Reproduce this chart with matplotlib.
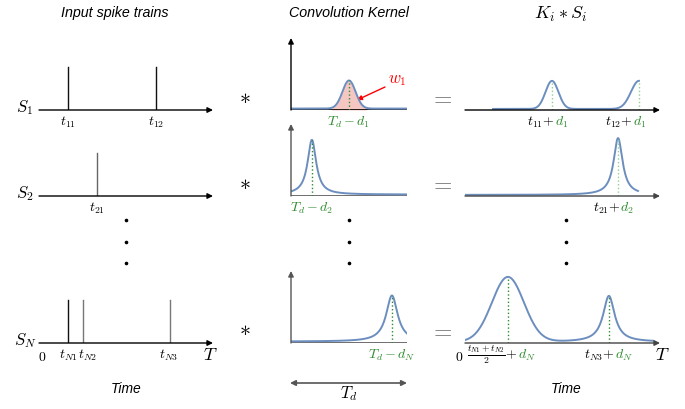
import numpy as np
import matplotlib.pyplot as plt

plt.rcParams['mathtext.fontset'] = 'cm'
plt.rcParams['font.family'] = ['Liberation Sans', 'DejaVu Sans']

W, H = 685, 409
BLUE = '#6c8ebf'
GREEN = '#2e8b2e'
LGREEN = '#8fd18f'

# input spike trains: spike times as fraction of T
spike_times = [[0.167, 0.672], [0.333], [0.167, 0.253, 0.753]]
spike_colors = [['#111111', '#111111'], ['#666666'], ['#111111', '#777777', '#777777']]
spike_labels = [[r'$t_{11}$', r'$t_{12}$'], [r'$t_{21}$'], [r'$t_{N1}$', r'$t_{N2}$', r'$t_{N3}$']]
spike_label_dx = [[0, 0], [0], [0, 5, -1]]
train_labels = [r'$S_1$', r'$S_2$', r'$S_N$']

# kernels: peak (fraction of T_d), height, width, shape
kernel_peaks = [0.50, 0.18, 0.87]
kernel_heights = [0.39, 0.76, 0.64]
kernel_widths = [0.056, 0.045, 0.06]
kernel_shapes = ['gauss', 'lorentz', 'lorentz']
kernel_labels = [r'$T_d-d_1$', r'$T_d-d_2$', r'$T_d-d_N$']

# convolved outputs K_i * S_i
out_peaks = [[0.446, 0.892], [0.785], [0.22, 0.738]]
out_heights = [[0.39, 0.39], [0.79], [0.90, 0.64]]
out_widths = [[0.033, 0.041], [0.028], [0.082, 0.036]]
out_shapes = [['gauss', 'gauss'], ['lorentz'], ['gauss', 'lorentz']]
out_span = [(0.144, 0.892), (0.0, 0.887), (0.0, 0.964)]
out_labels = [[(r'$t_{11}{+}$', r'$d_1$'), (r'$t_{12}{+}$', r'$d_1$')],
              [(r'$t_{21}{+}$', r'$d_2$')],
              [(r'$\frac{t_{N1}+t_{N2}}{2}{+}$', r'$d_N$'), (r'$t_{N3}{+}$', r'$d_N$')]]
out_label_dx = [[3, -6], [2], [10, 6]]

row_base = [110, 196, 343]


def bump(x, mu, h, w, shape):
    if shape == 'gauss':
        return h * np.exp(-0.5 * ((x - mu) / w) ** 2)
    return h / (1 + ((x - mu) / w) ** 2)


fig = plt.figure(figsize=(W / 100, H / 100), dpi=100)
ov = fig.add_axes([0, 0, 1, 1])
ov.set_xlim(0, W)
ov.set_ylim(H, 0)
ov.axis('off')


def panel(x0, x1, base, h):
    ax = fig.add_axes([x0 / W, 1 - base / H, (x1 - x0) / W, h / H])
    ax.set_xlim(0, 1)
    ax.set_ylim(0, 1)
    ax.axis('off')
    return ax


def haxis(ax, color='k'):
    ax.annotate('', xy=(1, 0), xytext=(0, 0),
                arrowprops=dict(arrowstyle='-|>', color=color, lw=1.0,
                                mutation_scale=8, shrinkA=0, shrinkB=0))


def below(ax, x, txt, dy=-12, dx=0, color='k', ha='center', size=10):
    ax.annotate(txt, xy=(x, 0), xytext=(dx, dy), textcoords='offset pixels',
                ha=ha, va='center', color=color, fontsize=size,
                annotation_clip=False)


# titles
ov.text(115, 13, 'Input spike trains', ha='center', va='center', style='italic', fontsize=10.3)
ov.text(349, 13, 'Convolution Kernel', ha='center', va='center', style='italic', fontsize=10.3)
ov.text(561, 14, r'$K_i * S_i$', ha='center', va='center', fontsize=13)

for i in range(3):
    base = row_base[i]

    # left: spike trains
    ax = panel(39, 213, base, 45)
    haxis(ax)
    for t, c, lbl, dx in zip(spike_times[i], spike_colors[i], spike_labels[i], spike_label_dx[i]):
        ax.plot([t, t], [0, 0.96], color=c, lw=1.0)
        below(ax, t, lbl, dx=dx)
    ov.text(25, base - 2, train_labels[i], ha='center', va='center', fontsize=12)

    # middle: kernel
    ax = panel(291, 407, base, 72)
    acol = 'k' if i == 0 else '#555555'
    ax.annotate('', xy=(0, 1), xytext=(0, 0),
                arrowprops=dict(arrowstyle='-|>', color=acol, lw=1.0,
                                mutation_scale=8, shrinkA=0, shrinkB=0))
    ax.plot([0, 1], [0, 0], color=acol, lw=1.2)
    x = np.linspace(0, 1, 400)
    y = 0.02 + bump(x, kernel_peaks[i], kernel_heights[i], kernel_widths[i], kernel_shapes[i])
    if i == 0:
        ax.fill_between(x, 0, y, where=y > 0.03, color='#f4c7c3', lw=0)
    ax.plot(x, y, color=BLUE, lw=1.4)
    pk = kernel_peaks[i]
    ax.plot([pk, pk], [0, y.max()], color=GREEN, lw=1.0, ls=':')
    below(ax, pk, kernel_labels[i], color=GREEN)
    ov.text(245, base - 13, r'$\ast$', ha='center', va='center', fontsize=16)

    # right: output
    ax = panel(465, 660, base, 72)
    haxis(ax, color='k' if i == 0 else '#444444')
    a, b = out_span[i]
    x = np.linspace(a, b, 400)
    y = 0.015 + sum(bump(x, m, h, w, s) for m, h, w, s in
                    zip(out_peaks[i], out_heights[i], out_widths[i], out_shapes[i]))
    ax.plot(x, y, color=BLUE, lw=1.4)
    vcol = GREEN if i == 2 else LGREEN
    for m, (blk, grn), dx in zip(out_peaks[i], out_labels[i], out_label_dx[i]):
        top = 0.015 + sum(bump(m, mm, h, w, s) for mm, h, w, s in
                          zip(out_peaks[i], out_heights[i], out_widths[i], out_shapes[i]))
        ax.plot([m, m], [0, top], color=vcol, lw=1.0, ls=':')
        below(ax, m, blk, dx=dx, ha='right')
        below(ax, m, grn, dx=dx, ha='left', color=GREEN)
    ov.text(441, base - 12, r'$=$', ha='center', va='center', fontsize=17, color='#666666')

# vertical ellipses
for xc in [126, 349, 566]:
    ov.plot([xc] * 3, [220, 242, 263], 'o', color='k', ms=1.6)

# red annotation for the kernel weight
ov.annotate('', xy=(357, 100), xytext=(385, 87),
            arrowprops=dict(arrowstyle='-|>', color='red', lw=1.0,
                            mutation_scale=7, shrinkA=0, shrinkB=0))
ov.text(397, 81, r'$w_1$', ha='center', va='center', color='red', fontsize=12)

# axis ends
ov.text(42, 357, r'$0$', ha='center', va='center', fontsize=10)
ov.text(210, 356, r'$T$', ha='center', va='center', fontsize=13)
ov.text(459, 357, r'$0$', ha='center', va='center', fontsize=10)
ov.text(662, 356, r'$T$', ha='center', va='center', fontsize=13)

# T_d span
ov.annotate('', xy=(407, 383), xytext=(290, 383),
            arrowprops=dict(arrowstyle='<|-|>', color='#555555', lw=1.2,
                            mutation_scale=8, shrinkA=0, shrinkB=0))
ov.text(349, 394, r'$T_d$', ha='center', va='center', fontsize=12)

ov.text(126, 389, 'Time', ha='center', va='center', style='italic', fontsize=10)
ov.text(566, 389, 'Time', ha='center', va='center', style='italic', fontsize=10)

fig.savefig('out.png', dpi=100)
